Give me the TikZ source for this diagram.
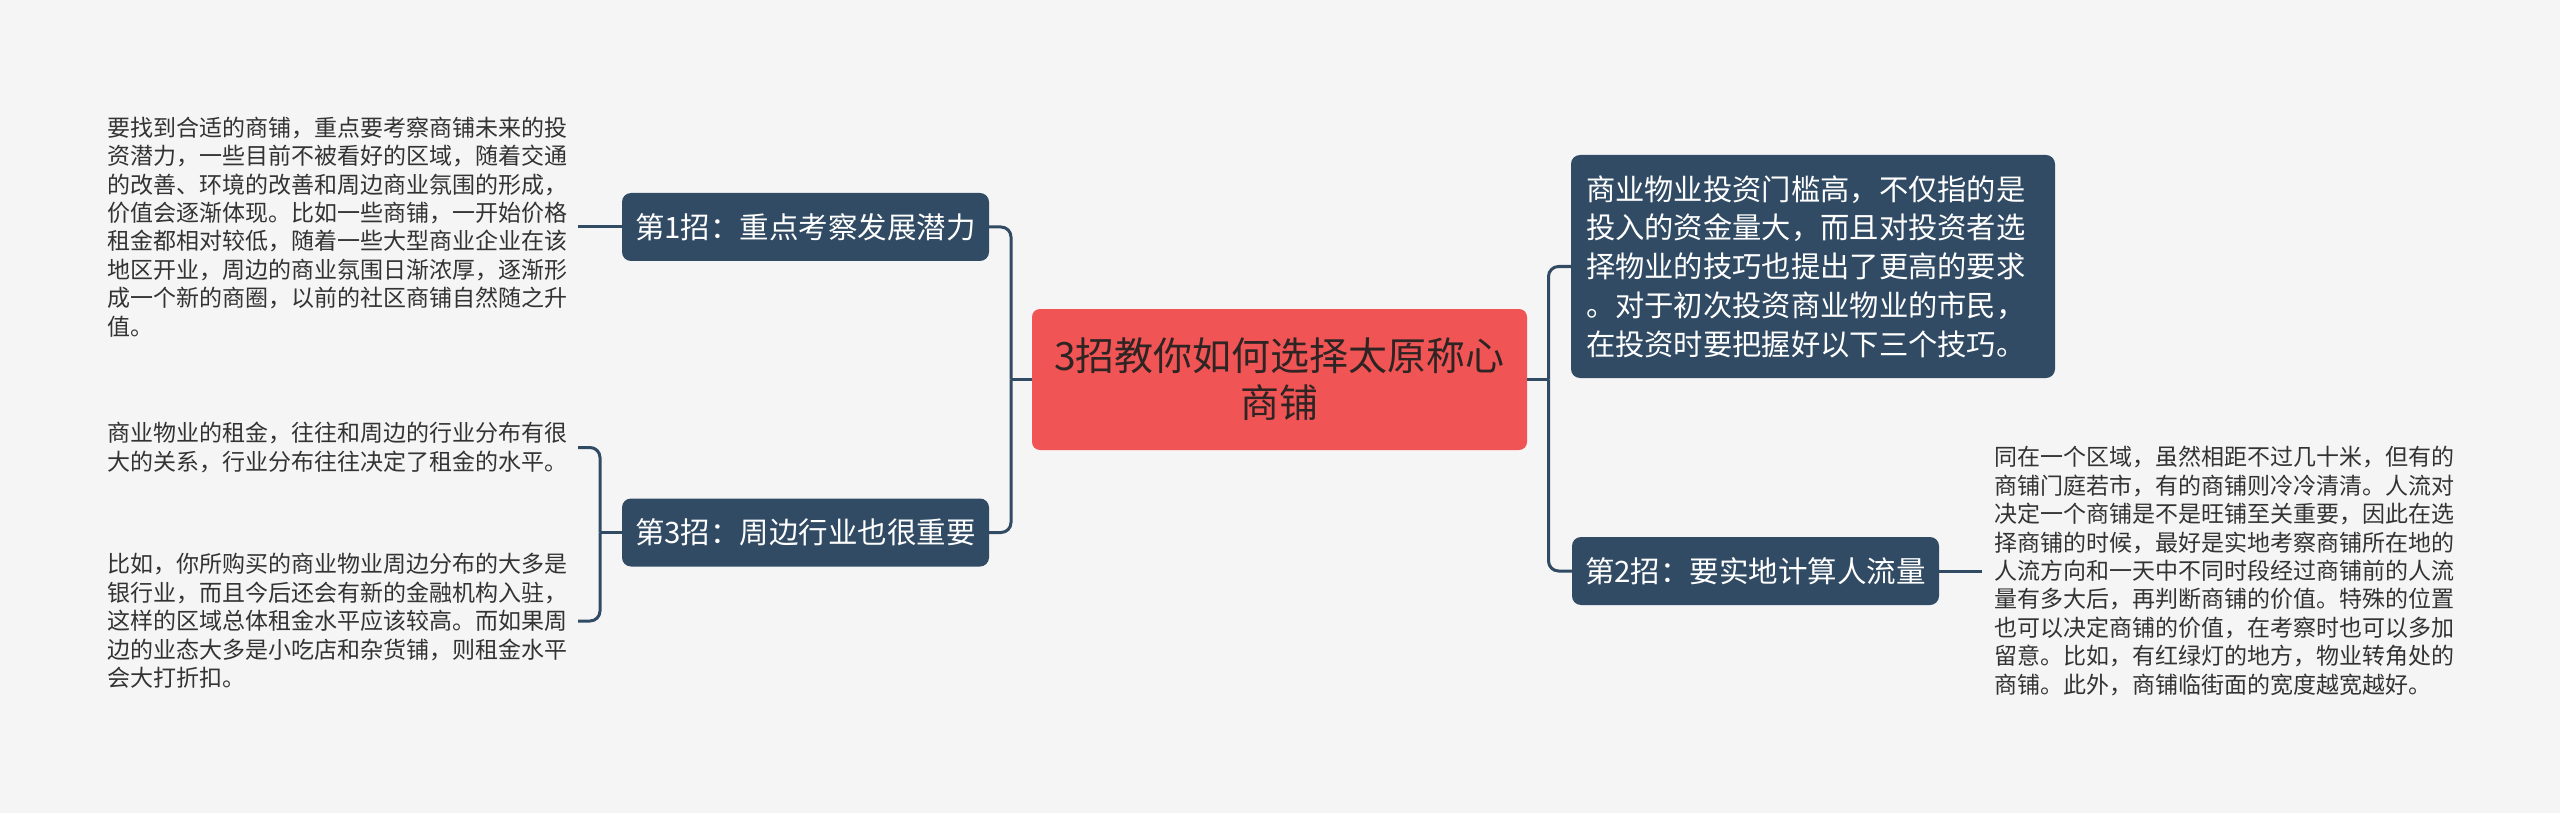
\documentclass[tikz,border=0pt]{standalone}
\usepackage{fontspec}
\setmainfont{Noto Sans CJK SC}
\definecolor{bg}{HTML}{F5F5F5}
\definecolor{navy}{HTML}{314B64}
\definecolor{redc}{HTML}{F05454}
\definecolor{txt}{HTML}{333333}
\definecolor{ctxt}{HTML}{2E2424}
\begin{document}
\begin{tikzpicture}[x=1pt,y=-1pt,
  conn/.style={draw=navy,line width=3pt,rounded corners=10pt},
  topic/.style={fill=navy,text=white,rounded corners=9pt,inner sep=0pt,
    font=\fontsize{29.5}{38}\selectfont,minimum height=68pt,minimum width=367pt},
  leaf/.style={text=txt,align=left,inner xsep=10pt,inner ysep=0pt,
    font=\fontsize{23}{28.4}\selectfont}]
\fill[bg] (0,0) rectangle (2560,813);

\node[fill=redc,rounded corners=8pt,minimum width=495pt,minimum height=141pt,
  inner sep=0pt,text=ctxt,align=center,font=\fontsize{39}{47}\selectfont]
  (c) at (1279.5,379.5) {3招教你如何选择太原称心\\商铺};

\node[fill=navy,text=white,rounded corners=9pt,inner xsep=15pt,inner ysep=0pt,
  minimum height=223pt,text width=454pt,align=left,
  font=\fontsize{29.3}{38.8}\selectfont] (r1) at (1813,266.5)
  {商业物业投资门槛高，不仅指的是\\
   投入的资金量大，而且对投资者选\\
   择物业的技巧也提出了更高的要求\\
   。对于初次投资商业物业的市民，\\
   在投资时要把握好以下三个技巧。};

\node[topic] (b1) at (805.5,227) {第1招：重点考察发展潜力};
\node[topic] (b3) at (805.5,532.5) {第3招：周边行业也很重要};
\node[topic] (b2) at (1755.5,571) {第2招：要实地计算人流量};

\node[leaf,anchor=east] (l1) at (578,227)
  {要找到合适的商铺，重点要考察商铺未来的投\\
   资潜力，一些目前不被看好的区域，随着交通\\
   的改善、环境的改善和周边商业氛围的形成，\\
   价值会逐渐体现。比如一些商铺，一开始价格\\
   租金都相对较低，随着一些大型商业企业在该\\
   地区开业，周边的商业氛围日渐浓厚，逐渐形\\
   成一个新的商圈，以前的社区商铺自然随之升\\
   值。};

\node[leaf,anchor=east] (l3a) at (578,447.5)
  {商业物业的租金，往往和周边的行业分布有很\\
   大的关系，行业分布往往决定了租金的水平。};

\node[leaf,anchor=east] (l3b) at (578,621)
  {比如，你所购买的商业物业周边分布的大多是\\
   银行业，而且今后还会有新的金融机构入驻，\\
   这样的区域总体租金水平应该较高。而如果周\\
   边的业态大多是小吃店和杂货铺，则租金水平\\
   会大打折扣。};

\node[leaf,anchor=west,inner xsep=12pt] (r2) at (1982,571)
  {同在一个区域，虽然相距不过几十米，但有的\\
   商铺门庭若市，有的商铺则冷冷清清。人流对\\
   决定一个商铺是不是旺铺至关重要，因此在选\\
   择商铺的时候，最好是实地考察商铺所在地的\\
   人流方向和一天中不同时段经过商铺前的人流\\
   量有多大后，再判断商铺的价值。特殊的位置\\
   也可以决定商铺的价值，在考察时也可以多加\\
   留意。比如，有红绿灯的地方，物业转角处的\\
   商铺。此外，商铺临街面的宽度越宽越好。};

\coordinate (jl) at (1011,379.5);
\coordinate (jr) at (1548.5,379.5);
\coordinate (j3) at (600,532.5);

\draw[conn] (c.west) -- (jl);
\draw[conn] (jl) |- (b1.east);
\draw[conn] (jl) |- (b3.east);
\draw[conn] (c.east) -- (jr);
\draw[conn] (jr) |- (r1.west);
\draw[conn] (jr) |- (b2.west);
\draw[conn] (b1.west) -- (l1.east);
\draw[conn] (b3.west) -- (j3);
\draw[conn] (j3) |- (l3a.east);
\draw[conn] (j3) |- (l3b.east);
\draw[conn] (b2.east) -- (r2.west);
\end{tikzpicture}
\end{document}
